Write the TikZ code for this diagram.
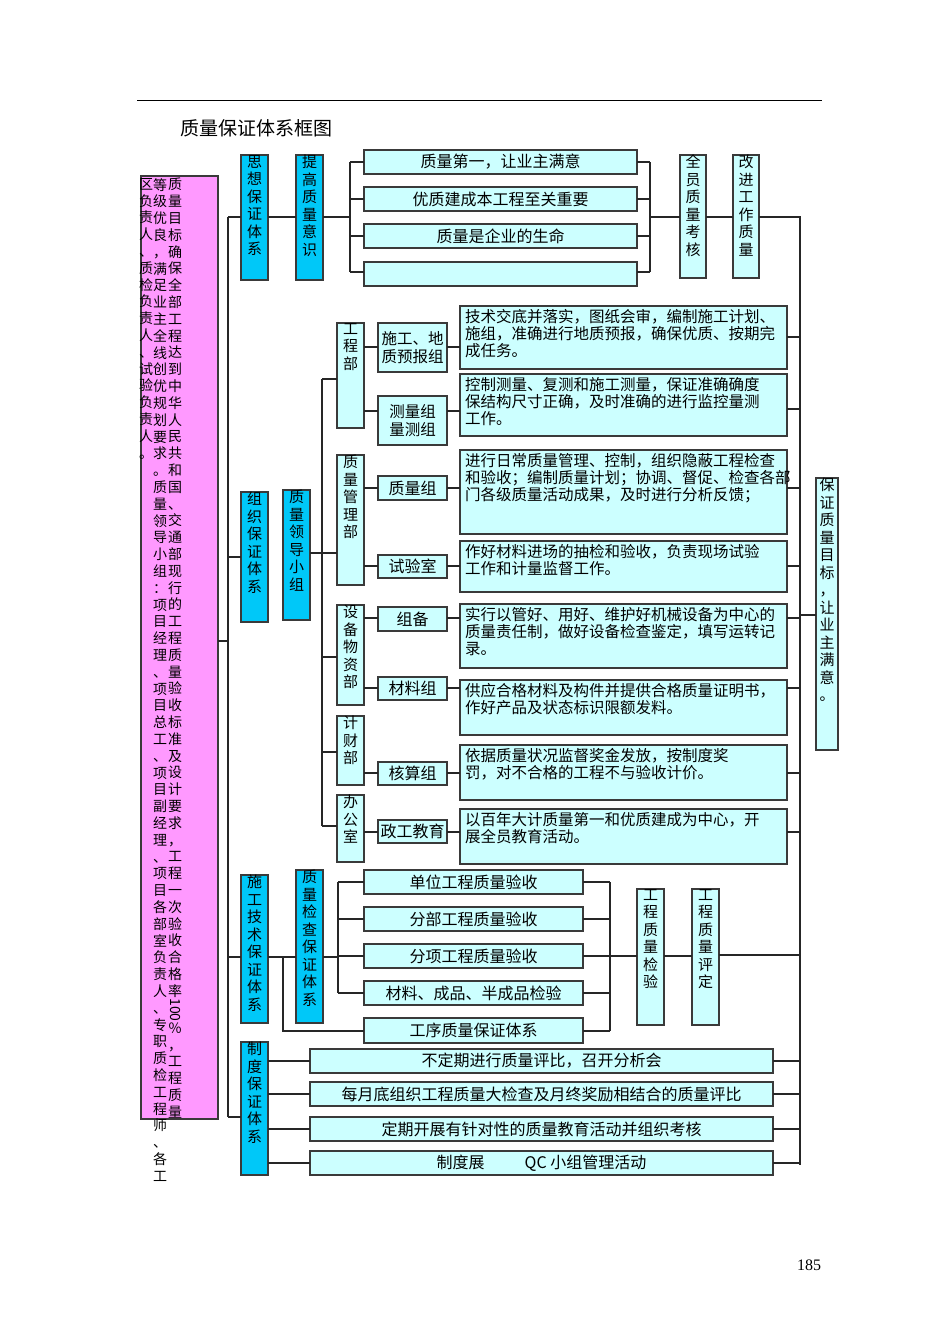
\documentclass[tikz,border=0pt]{standalone}
\usepackage{fontspec}
\setmainfont{Noto Sans CJK SC}
\newfontfamily\numfont{Liberation Serif}
\ExplSyntaxOn
\NewDocumentCommand\vt{m}{\tl_map_inline:nn{#1}{##1\\}}
\ExplSyntaxOff
\definecolor{lc}{HTML}{CCFFFF}
\definecolor{bc}{HTML}{00C8F8}
\definecolor{pk}{HTML}{FF99FF}
\definecolor{bd}{HTML}{3A3A3A}
\tikzset{
 lbox/.style={draw=bd,line width=1.4pt,fill=lc,inner sep=0pt,outer sep=0pt},
 bbox/.style={draw=bd,line width=1.4pt,fill=bc,inner sep=0pt,outer sep=0pt},
 pbox/.style={draw=bd,line width=1.4pt,fill=pk,inner sep=0pt,outer sep=0pt},
 vtx/.style={anchor=north,inner sep=0pt,align=center,text width=15pt,font=\fontsize{15}{17.5}\selectfont},
 ptx/.style={anchor=north,inner sep=0pt,align=center,text width=14pt,font=\fontsize{14}{16.8}\selectfont},
 dtx/.style={anchor=north west,inner sep=0pt,align=left,font=\fontsize{15.5}{17}\selectfont},
 ctx/.style={inner sep=0pt,align=center,font=\fontsize{16}{17}\selectfont},
 ln/.style={draw=black!85,line width=1.1pt}
}
\newcommand\bx[6]{\pgfmathsetmacro\ww{#4-#2}\pgfmathsetmacro\hh{#5-#3}%
 \node[#6,minimum width=\ww pt,minimum height=\hh pt,anchor=north west] (#1) at (#2,#3) {};}
\begin{document}
\begin{tikzpicture}[x=1pt,y=-1pt]
\fill[white] (0,0) rectangle (950,1344);
\useasboundingbox (0,0) rectangle (950,1344);
\draw[line width=0.8pt] (137,100) -- (822,100);
\node[anchor=west,inner sep=0pt,font=\fontsize{19}{20}\selectfont] (title) at (180,128) {质量保证体系框图};
\node[inner sep=0pt,font=\numfont\fontsize{16}{18}\selectfont] (pg) at (809,1265) {185};

% pink
\bx{pink}{141}{176}{218}{1119}{pbox}
\node[ptx] (p3) at (175,178) {\vt{质量目标确保全部工程达到中华人民共和国、交通部现行的工程质量验收标准及设计要求，工程一次验收合格率{\rotatebox[origin=c]{-90}{100}}％，工程质量}};
\node[ptx] (p2) at (160,178) {\vt{等级优良，满足业主全线创优规划要求。质量领导小组：项目经理、项目总工、项目副经理、项目各部室负责人、专职质检工程师、各工}};
\node[ptx] (p1) at (146,178) {\vt{区负责人、质检负责人、试验负责人。}};

% level 1 blue
\bx{sx}{241}{155}{268}{280}{bbox} \node[vtx] at (sx.north) {\vt{思想保证体系}};
\bx{tg}{296}{155}{323}{280}{bbox} \node[vtx] at (tg.north) {\vt{提高质量意识}};
\bx{zz}{241}{492}{268}{622}{bbox} \node[vtx] at (zz.north) {\vt{组织保证体系}};
\bx{ld}{283}{490}{310}{620}{bbox} \node[vtx] at (ld.north) {\vt{质量领导小组}};
\bx{sg}{241}{875}{268}{1023}{bbox} \node[vtx] at (sg.north) {\vt{施工技术保证体系}};
\bx{jc}{296}{870}{323}{1023}{bbox} \node[vtx] at (jc.north) {\vt{质量检查保证体系}};
\bx{zd}{241}{1042}{268}{1175}{bbox} \node[vtx] at (zd.north) {\vt{制度保证体系}};

% trunk
\coordinate (t0) at (228,217);
\coordinate (t1) at (228,1117);
\draw[ln] (t0) -- (t1);
\draw[ln] (pink.east |- 0,641) -- (228,641);
\draw[ln] (t0) -- (sx.west |- t0);
\draw[ln] (228,557) -- (zz.west |- 0,557);
\draw[ln] (228,957) -- (sg.west |- 0,957);
\draw[ln] (t1) -- (zd.west |- t1);

% top group
\draw[ln] (sx.east |- 0,217) -- (tg.west |- 0,217);
\bx{q1}{364}{150}{637}{174}{lbox} \node[ctx] at (q1) {质量第一，让业主满意};
\bx{q2}{364}{187}{637}{211}{lbox} \node[ctx] at (q2) {优质建成本工程至关重要};
\bx{q3}{364}{224}{637}{248}{lbox} \node[ctx] at (q3) {质量是企业的生命};
\bx{q4}{364}{262}{637}{286}{lbox}
\draw[ln] (tg.east |- 0,217) -- (350,217);
\draw[ln] (350,162) -- (350,272);
\foreach \q/\yy in {q1/162,q2/199,q3/236,q4/272}{
  \draw[ln] (350,\yy) -- (\q.west |- 0,\yy);
  \draw[ln] (\q.east |- 0,\yy) -- (650,\yy);}
\draw[ln] (650,162) -- (650,272);
\bx{qy}{680}{155}{706}{278}{lbox} \node[vtx] at (qy.north) {\vt{全员质量考核}};
\bx{gj}{733}{155}{759}{278}{lbox} \node[vtx] at (gj.north) {\vt{改进工作质量}};
\draw[ln] (650,217) -- (qy.west |- 0,217);
\draw[ln] (qy.east |- 0,217) -- (gj.west |- 0,217);
\coordinate (r0) at (800,217);
\coordinate (r1) at (800,1165);
\draw[ln] (gj.east |- r0) -- (r0) -- (r1);
\bx{bz}{816}{478}{838}{750}{lbox} \node[vtx] at (bz.north) {\vt{保证质量目标，让业主满意。}};
\draw[ln] (800,615) -- (bz.west |- 0,615);

% middle group departments
\draw[ln] (ld.east |- 0,553) -- (322,553);
\draw[ln] (322,379) -- (322,826);
\bx{gc}{337}{323}{364}{428}{lbox} \node[vtx] at (gc.north) {\vt{工程部}};
\bx{zl}{337}{455}{364}{585}{lbox} \node[vtx] at (zl.north) {\vt{质量管理部}};
\bx{sb}{337}{605}{364}{705}{lbox} \node[vtx] at (sb.north) {\vt{设备物资部}};
\bx{jca}{337}{716}{364}{785}{lbox} \node[vtx] at (jca.north) {\vt{计财部}};
\bx{bg}{337}{795}{364}{862}{lbox} \node[vtx] at (bg.north) {\vt{办公室}};
\foreach \d/\yy in {gc/379,zl/553,sb/657,jca/752,bg/826}{
  \draw[ln] (322,\yy) -- (\d.west |- 0,\yy);}

% sub groups
\bx{s1}{378}{323}{447}{372}{lbox} \node[ctx,font=\fontsize{15.5}{18}\selectfont] at (s1) {施工、地\\质预报组};
\bx{s2}{378}{396}{447}{445}{lbox} \node[ctx,font=\fontsize{15.5}{18}\selectfont] at (s2) {测量组\\量测组};
\bx{s3}{378}{476}{447}{500}{lbox} \node[ctx] at (s3) {质量组};
\bx{s4}{378}{555}{447}{578}{lbox} \node[ctx] at (s4) {试验室};
\bx{s5}{378}{607}{447}{631}{lbox} \node[ctx] at (s5) {组备};
\bx{s6}{378}{677}{447}{700}{lbox} \node[ctx] at (s6) {材料组};
\bx{s7}{378}{762}{447}{785}{lbox} \node[ctx] at (s7) {核算组};
\bx{s8}{378}{820}{447}{843}{lbox} \node[ctx] at (s8) {政工教育};
\foreach \s/\d/\yy in {s1/gc/347,s2/gc/411,s3/zl/488,s4/zl/566,s5/sb/618,s6/sb/688,s7/jca/773,s8/bg/832}{
  \draw[ln] (\d.east |- 0,\yy) -- (\s.west |- 0,\yy);}

% descriptions
\bx{d1}{460}{306}{787}{369}{lbox} \node[dtx] at (465,309) {技术交底并落实，图纸会审，编制施工计划、\\施组，准确进行地质预报，确保优质、按期完\\成任务。};
\bx{d2}{460}{374}{787}{436}{lbox} \node[dtx] at (465,377) {控制测量、复测和施工测量，保证准确确度\\保结构尺寸正确，及时准确的进行监控量测\\工作。};
\bx{d3}{460}{450}{787}{534}{lbox} \node[dtx] at (465,453) {进行日常质量管理、控制，组织隐蔽工程检查\\和验收；编制质量计划；协调、督促、检查各部\\门各级质量活动成果，及时进行分析反馈；};
\bx{d4}{460}{541}{787}{592}{lbox} \node[dtx] at (465,544) {作好材料进场的抽检和验收，负责现场试验\\工作和计量监督工作。};
\bx{d5}{460}{604}{787}{668}{lbox} \node[dtx] at (465,607) {实行以管好、用好、维护好机械设备为中心的\\质量责任制，做好设备检查鉴定，填写运转记\\录。};
\bx{d6}{460}{680}{787}{735}{lbox} \node[dtx] at (465,683) {供应合格材料及构件并提供合格质量证明书，\\作好产品及状态标识限额发料。};
\bx{d7}{460}{745}{787}{800}{lbox} \node[dtx] at (465,748) {依据质量状况监督奖金发放，按制度奖\\罚，对不合格的工程不与验收计价。};
\bx{d8}{460}{809}{787}{864}{lbox} \node[dtx] at (465,812) {以百年大计质量第一和优质建成为中心，开\\展全员教育活动。};
\foreach \s/\d/\yy in {s1/d1/347,s2/d2/411,s3/d3/488,s4/d4/566,s5/d5/618,s6/d6/688,s7/d7/773,s8/d8/832}{
  \draw[ln] (\s.east |- 0,\yy) -- (\d.west |- 0,\yy);}
\foreach \d/\yy in {d1/337,d2/409,d3/488,d4/566,d5/618,d6/688,d7/773,d8/832}{
  \draw[ln] (\d.east |- 0,\yy) -- (800,\yy);}

% lower group
\draw[ln] (sg.east |- 0,957) -- (jc.west |- 0,957);
\bx{u1}{364}{870}{583}{894}{lbox} \node[ctx] at (u1) {单位工程质量验收};
\bx{u2}{364}{907}{583}{931}{lbox} \node[ctx] at (u2) {分部工程质量验收};
\bx{u3}{364}{944}{583}{968}{lbox} \node[ctx] at (u3) {分项工程质量验收};
\bx{u4}{364}{981}{583}{1005}{lbox} \node[ctx] at (u4) {材料、成品、半成品检验};
\bx{u5}{364}{1018}{583}{1043}{lbox} \node[ctx] at (u5) {工序质量保证体系};
\draw[ln] (283,957) -- (283,1031) -- (u5.west |- 0,1031);
\draw[ln] (jc.east |- 0,957) -- (338,957);
\draw[ln] (338,882) -- (338,993);
\foreach \u/\yy in {u1/882,u2/919,u3/956,u4/993}{
  \draw[ln] (338,\yy) -- (\u.west |- 0,\yy);}
\foreach \u/\yy in {u1/882,u2/919,u3/956,u4/993,u5/1031}{
  \draw[ln] (\u.east |- 0,\yy) -- (610,\yy);}
\draw[ln] (610,882) -- (610,1031);
\bx{jy}{637}{889}{664}{1025}{lbox} \node[vtx] at (jy.north) {\vt{工程质量检验}};
\bx{pd}{692}{889}{719}{1025}{lbox} \node[vtx] at (pd.north) {\vt{工程质量评定}};
\draw[ln] (610,956) -- (jy.west |- 0,956);
\draw[ln] (jy.east |- 0,956) -- (pd.west |- 0,956);
\draw[ln] (pd.east |- 0,955) -- (800,955);

% zhidu group
\bx{z1}{310}{1049}{773}{1073}{lbox} \node[ctx] at (z1) {不定期进行质量评比，召开分析会};
\bx{z2}{310}{1082}{773}{1106}{lbox} \node[ctx] at (z2) {每月底组织工程质量大检查及月终奖励相结合的质量评比};
\bx{z3}{310}{1117}{773}{1141}{lbox} \node[ctx] at (z3) {定期开展有针对性的质量教育活动并组织考核};
\bx{z4}{310}{1151}{773}{1175}{lbox} \node[ctx] at (z4) {制度展\hspace{2.5em}QC 小组管理活动};
\foreach \z/\yy in {z1/1061,z2/1094,z3/1129,z4/1163}{
  \draw[ln] (zd.east |- 0,\yy) -- (\z.west |- 0,\yy);
  \draw[ln] (\z.east |- 0,\yy) -- (800,\yy);}
\end{tikzpicture}
\end{document}
